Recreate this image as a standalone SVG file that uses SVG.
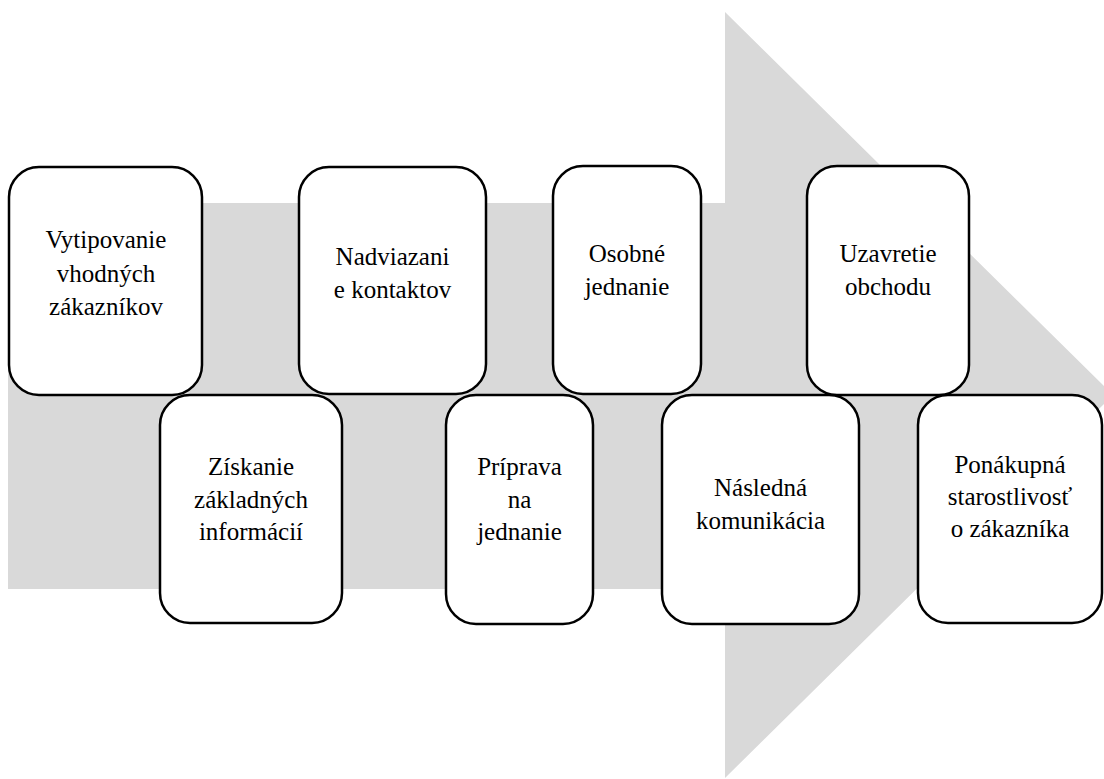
<svg xmlns="http://www.w3.org/2000/svg" width="1104" height="779" viewBox="0 0 1104 779">
<style>
.box{fill:#ffffff;stroke:#000000;stroke-width:2.5}
.t{font-size:25px;fill:#000000;text-anchor:middle}
</style>
<rect width="1104" height="779" fill="#ffffff"/>
<g id="arrow">
<polygon points="8,203 725,203 725,12 1113,395 725,778 725,589 8,589" fill="#d9d9d9"/>
</g>
<g id="connectors"></g>
<g id="nodes" font-family="Liberation Serif, Times New Roman, serif">
<g id="n1"><rect class="box" x="9" y="167" width="193" height="228" rx="30"/>
<text class="t" x="106" y="248">Vytipovanie</text><text class="t" x="106" y="281.5">vhodných</text><text class="t" x="106" y="315">zákazníkov</text></g>
<g id="n3"><rect class="box" x="299" y="167" width="187" height="227" rx="30"/>
<text class="t" x="392.5" y="265">Nadviazani</text><text class="t" x="392.5" y="298">e kontaktov</text></g>
<g id="n5"><rect class="box" x="553" y="166" width="148" height="228" rx="30"/>
<text class="t" x="627" y="262">Osobné</text><text class="t" x="627" y="295">jednanie</text></g>
<g id="n7"><rect class="box" x="807" y="166" width="162" height="229" rx="30"/>
<text class="t" x="888" y="262">Uzavretie</text><text class="t" x="888" y="295">obchodu</text></g>
<g id="n2"><rect class="box" x="160" y="395" width="182" height="228" rx="30"/>
<text class="t" x="251" y="475">Získanie</text><text class="t" x="251" y="508">základných</text><text class="t" x="251" y="540">informácií</text></g>
<g id="n4"><rect class="box" x="446" y="395" width="147" height="229" rx="30"/>
<text class="t" x="519.5" y="475">Príprava</text><text class="t" x="519.5" y="508">na</text><text class="t" x="519.5" y="540">jednanie</text></g>
<g id="n6"><rect class="box" x="662" y="395" width="197" height="229" rx="30"/>
<text class="t" x="760.5" y="496">Následná</text><text class="t" x="760.5" y="529">komunikácia</text></g>
<g id="n8"><rect class="box" x="918" y="395" width="184" height="228" rx="30"/>
<text class="t" x="1010" y="473">Ponákupná</text><text class="t" x="1010" y="505">starostlivosť</text><text class="t" x="1010" y="537">o zákazníka</text></g>
</g>
</svg>
